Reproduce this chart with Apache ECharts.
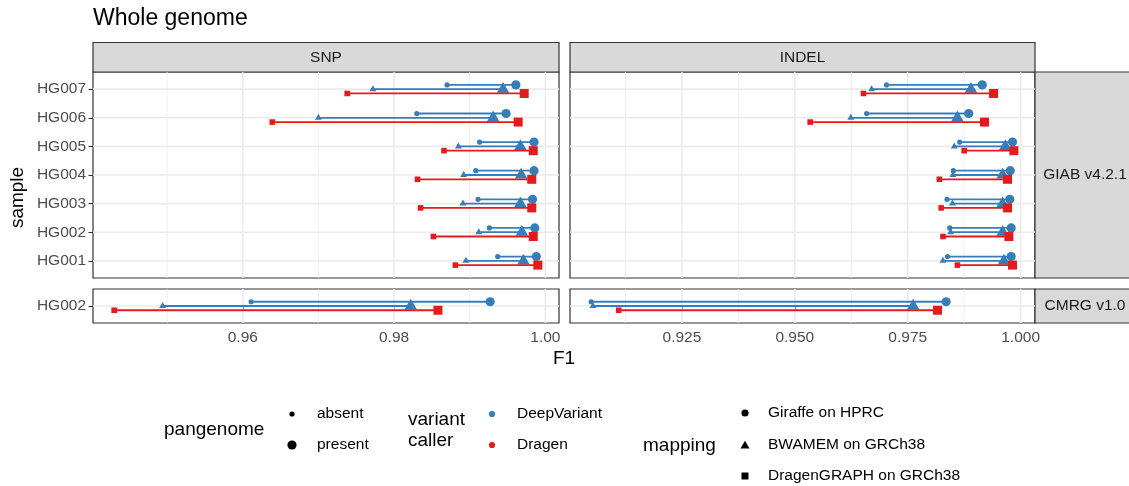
<!DOCTYPE html>
<html>
<head>
<meta charset="utf-8">
<title>Whole genome</title>
<script src="https://cdn.jsdelivr.net/npm/echarts@6.0.0/dist/echarts.min.js"></script>
<style>
  html, body { margin: 0; padding: 0; background: #ffffff; }
  #chart { width: 1129px; height: 486px; }
</style>
</head>
<body>
<div id="chart"></div>
<script>
// ---- data: F1 per sample, without ("absent") and with ("present") the pangenome ----
const samples = ['HG001', 'HG002', 'HG003', 'HG004', 'HG005', 'HG006', 'HG007'];
const cmrgSamples = ['HG002'];

// GIAB v4.2.1, SNP
const snpGiraffeAbsent   = [0.9937, 0.9926, 0.9911, 0.9908, 0.9913, 0.9830, 0.9870];
const snpGiraffePresent  = [0.9988, 0.9986, 0.9983, 0.9985, 0.9985, 0.9948, 0.9961];
const snpBwamemAbsent    = [0.9895, 0.9912, 0.9891, 0.9892, 0.9885, 0.9700, 0.9772];
const snpBwamemPresent   = [0.9971, 0.9969, 0.9967, 0.9968, 0.9967, 0.9931, 0.9944];
const snpDragenAbsent    = [0.9881, 0.9852, 0.9835, 0.9831, 0.9866, 0.9639, 0.9738];
const snpDragenPresent   = [0.9990, 0.9984, 0.9982, 0.9982, 0.9984, 0.9964, 0.9972];

// GIAB v4.2.1, INDEL
const indelGiraffeAbsent  = [0.9838, 0.9843, 0.9837, 0.9851, 0.9865, 0.9659, 0.9703];
const indelGiraffePresent = [0.9979, 0.9979, 0.9976, 0.9977, 0.9982, 0.9885, 0.9915];
const indelBwamemAbsent   = [0.9828, 0.9845, 0.9849, 0.9850, 0.9853, 0.9624, 0.9670];
const indelBwamemPresent  = [0.9963, 0.9960, 0.9960, 0.9960, 0.9966, 0.9860, 0.9890];
const indelDragenAbsent   = [0.9860, 0.9828, 0.9824, 0.9820, 0.9875, 0.9534, 0.9652];
const indelDragenPresent  = [0.9982, 0.9974, 0.9971, 0.9971, 0.9985, 0.9920, 0.9940];

// CMRG v1.0 (HG002 only)
const cmrgSnpGiraffeAbsent    = [0.9611];
const cmrgSnpGiraffePresent   = [0.9927];
const cmrgSnpBwamemAbsent     = [0.9494];
const cmrgSnpBwamemPresent    = [0.9822];
const cmrgSnpDragenAbsent     = [0.9430];
const cmrgSnpDragenPresent    = [0.9858];
const cmrgIndelGiraffeAbsent  = [0.9049];
const cmrgIndelGiraffePresent = [0.9835];
const cmrgIndelBwamemAbsent   = [0.9053];
const cmrgIndelBwamemPresent  = [0.9762];
const cmrgIndelDragenAbsent   = [0.9110];
const cmrgIndelDragenPresent  = [0.9816];

// axis breaks
const snpTicks = [0.96, 0.98, 1.00];
const snpMinorTicks = [0.95, 0.97, 0.99];
const indelTicks = [0.925, 0.950, 0.975, 1.000];
const indelMinorTicks = [0.9125, 0.9375, 0.9625, 0.9875];

// ---- styling ----
const FONT = '"Liberation Sans", Arial, Helvetica, sans-serif';
const BLUE = '#377EB8';
const RED = '#E41A1C';
const GRID_COLOR = '#EBEBEB';
const BORDER = '#333333';
const STRIP_FILL = '#D9D9D9';

const SMALL = { circle: 2.6, triangle: 4.0, square: 5.6 };
const BIG = { circle: 4.6, triangle: 7.2, square: 9.0 };

function marker(shape, x, y, s, color) {
  if (shape === 'circle') {
    return { type: 'circle', shape: { cx: x, cy: y, r: s }, style: { fill: color } };
  }
  if (shape === 'triangle') {
    return {
      type: 'polygon',
      shape: { points: [[x, y - s], [x + 0.866 * s, y + 0.5 * s], [x - 0.866 * s, y + 0.5 * s]] },
      style: { fill: color }
    };
  }
  return { type: 'rect', shape: { x: x - s / 2, y: y - s / 2, width: s, height: s }, style: { fill: color } };
}

// ggplot-like expansion (5% of the data range on both sides)
function expandedRange(arrays) {
  const all = [].concat(...arrays);
  const lo = Math.min(...all);
  const hi = Math.max(...all);
  const pad = (hi - lo) * 0.05;
  return [lo - pad, hi + pad];
}

const snpRange = expandedRange([
  snpGiraffeAbsent, snpGiraffePresent, snpBwamemAbsent, snpBwamemPresent, snpDragenAbsent, snpDragenPresent,
  cmrgSnpGiraffeAbsent, cmrgSnpGiraffePresent, cmrgSnpBwamemAbsent, cmrgSnpBwamemPresent,
  cmrgSnpDragenAbsent, cmrgSnpDragenPresent
]);
const indelRange = expandedRange([
  indelGiraffeAbsent, indelGiraffePresent, indelBwamemAbsent, indelBwamemPresent, indelDragenAbsent, indelDragenPresent,
  cmrgIndelGiraffeAbsent, cmrgIndelGiraffePresent, cmrgIndelBwamemAbsent, cmrgIndelBwamemPresent,
  cmrgIndelDragenAbsent, cmrgIndelDragenPresent
]);

// mapping -> shape, colour and vertical dodge (in row units)
const mappings = [
  { name: 'Giraffe on HPRC', shape: 'circle', color: BLUE, dodge: 0.15 },
  { name: 'BWAMEM on GRCh38', shape: 'triangle', color: BLUE, dodge: 0 },
  { name: 'DragenGRAPH on GRCh38', shape: 'square', color: RED, dodge: -0.15 }
];

// panels: grid index, row labels, x range, ticks, and [absent, present] per mapping
const panels = [
  { grid: 0, rows: samples, range: snpRange, ticks: snpTicks, minor: snpMinorTicks, digits: 2, left: true, bottom: false,
    pairs: [[snpGiraffeAbsent, snpGiraffePresent], [snpBwamemAbsent, snpBwamemPresent], [snpDragenAbsent, snpDragenPresent]] },
  { grid: 1, rows: samples, range: indelRange, ticks: indelTicks, minor: indelMinorTicks, digits: 3, left: false, bottom: false,
    pairs: [[indelGiraffeAbsent, indelGiraffePresent], [indelBwamemAbsent, indelBwamemPresent], [indelDragenAbsent, indelDragenPresent]] },
  { grid: 2, rows: cmrgSamples, range: snpRange, ticks: snpTicks, minor: snpMinorTicks, digits: 2, left: true, bottom: true,
    pairs: [[cmrgSnpGiraffeAbsent, cmrgSnpGiraffePresent], [cmrgSnpBwamemAbsent, cmrgSnpBwamemPresent], [cmrgSnpDragenAbsent, cmrgSnpDragenPresent]] },
  { grid: 3, rows: cmrgSamples, range: indelRange, ticks: indelTicks, minor: indelMinorTicks, digits: 3, left: false, bottom: true,
    pairs: [[cmrgIndelGiraffeAbsent, cmrgIndelGiraffePresent], [cmrgIndelBwamemAbsent, cmrgIndelBwamemPresent], [cmrgIndelDragenAbsent, cmrgIndelDragenPresent]] }
];

const gridBoxes = [
  { left: 93, top: 72, width: 466, height: 206 },
  { left: 570, top: 72, width: 465, height: 206 },
  { left: 93, top: 289, width: 466, height: 34 },
  { left: 570, top: 289, width: 465, height: 34 }
];

const grids = gridBoxes.map(b => Object.assign({
  show: true, backgroundColor: '#ffffff', borderColor: BORDER, borderWidth: 1.2,
  containLabel: false, outerBoundsMode: 'none'
}, b));

const xAxes = panels.map(p => ({
  type: 'value', gridIndex: p.grid, min: p.range[0], max: p.range[1],
  axisLine: { show: false },
  splitLine: { show: false },
  axisTick: { show: p.bottom, customValues: p.ticks, length: 4.5, lineStyle: { color: BORDER, width: 1.1 } },
  axisLabel: {
    show: p.bottom, customValues: p.ticks, margin: 7,
    formatter: v => v.toFixed(p.digits),
    color: '#4D4D4D', fontSize: 15.5, fontFamily: FONT
  }
}));

const yAxes = panels.map(p => {
  const idx = p.rows.map((_, i) => i);
  return {
    type: 'value', gridIndex: p.grid, min: -0.6, max: p.rows.length - 0.4,
    axisLine: { show: false },
    splitLine: { show: false },
    axisTick: { show: p.left, customValues: idx, length: 4.5, lineStyle: { color: BORDER, width: 1.1 } },
    axisLabel: {
      show: p.left, customValues: idx, margin: 7,
      formatter: v => p.rows[Math.round(v)],
      color: '#4D4D4D', fontSize: 15.5, fontFamily: FONT
    }
  };
});

const series = [];
panels.forEach(p => {
  // background grid lines
  const vLines = (values, width) => ({
    type: 'custom', xAxisIndex: p.grid, yAxisIndex: p.grid, z: 1, silent: true,
    data: values.map(v => [v, 0]),
    renderItem: (params, api) => {
      const x = api.coord([api.value(0), 0])[0];
      const cs = params.coordSys;
      return { type: 'line', shape: { x1: x, y1: cs.y, x2: x, y2: cs.y + cs.height },
               style: { stroke: GRID_COLOR, lineWidth: width } };
    }
  });
  series.push(vLines(p.minor, 0.8));
  series.push(vLines(p.ticks, 1.5));
  series.push({
    type: 'custom', xAxisIndex: p.grid, yAxisIndex: p.grid, z: 1, silent: true,
    data: p.rows.map((_, i) => [p.range[0], i]),
    renderItem: (params, api) => {
      const y = api.coord([api.value(0), api.value(1)])[1];
      const cs = params.coordSys;
      return { type: 'line', shape: { x1: cs.x, y1: y, x2: cs.x + cs.width, y2: y },
               style: { stroke: GRID_COLOR, lineWidth: 1.6 } };
    }
  });

  // dumbbells: absent (small) -> present (large)
  mappings.forEach((m, mi) => {
    const [absent, present] = p.pairs[mi];
    series.push({
      type: 'custom', name: m.name, xAxisIndex: p.grid, yAxisIndex: p.grid, z: 2 + mi,
      encode: { x: [0, 1], y: 2 },
      data: p.rows.map((_, i) => [absent[i], present[i], i]),
      renderItem: (params, api) => {
        const row = api.value(2);
        const a = api.coord([api.value(0), row]);
        const b = api.coord([api.value(1), row]);
        const y = a[1] - m.dodge * api.size([0, 1])[1];
        return {
          type: 'group',
          children: [
            { type: 'line', shape: { x1: a[0], y1: y, x2: b[0], y2: y }, style: { stroke: m.color, lineWidth: 1.8 } },
            marker(m.shape, a[0], y, SMALL[m.shape], m.color),
            marker(m.shape, b[0], y, BIG[m.shape], m.color)
          ]
        };
      }
    });
  });
});

// facet strips, titles and legends
function text(str, x, y, size, opts) {
  return Object.assign({
    type: 'text', x: x, y: y,
    style: { text: str, fill: '#000000', font: size + 'px ' + FONT, align: 'left', verticalAlign: 'middle' }
  }, opts || {});
}
function strip(x, y, w, h, label) {
  return [
    { type: 'rect', shape: { x: x, y: y, width: w, height: h },
      style: { fill: STRIP_FILL, stroke: BORDER, lineWidth: 1.2 } },
    { type: 'text', x: x + w / 2, y: y + h / 2,
      style: { text: label, fill: '#1A1A1A', font: '15.5px ' + FONT, align: 'center', verticalAlign: 'middle' } }
  ];
}

const graphics = [].concat(
  strip(93, 42.5, 466, 29.5, 'SNP'),
  strip(570, 42.5, 465, 29.5, 'INDEL'),
  strip(1035, 72, 100, 206, 'GIAB v4.2.1'),
  strip(1035, 289, 100, 34, 'CMRG v1.0'),
  [
    text('Whole genome', 93, 18.5, 23),
    { type: 'text', x: 18, y: 197.5, rotation: Math.PI / 2,
      style: { text: 'sample', fill: '#000000', font: '19px ' + FONT, align: 'center', verticalAlign: 'middle' } },
    { type: 'text', x: 564, y: 359,
      style: { text: 'F1', fill: '#000000', font: '19px ' + FONT, align: 'center', verticalAlign: 'middle' } },

    // pangenome
    text('pangenome', 164, 430, 19),
    { type: 'circle', shape: { cx: 292, cy: 414, r: SMALL.circle }, style: { fill: '#000000' } },
    { type: 'circle', shape: { cx: 292, cy: 445, r: BIG.circle }, style: { fill: '#000000' } },
    text('absent', 317, 414, 15.5),
    text('present', 317, 445, 15.5),

    // variant caller
    text('variant', 408, 420, 19),
    text('caller', 408, 441, 19),
    { type: 'circle', shape: { cx: 492, cy: 414, r: 3.1 }, style: { fill: BLUE } },
    { type: 'circle', shape: { cx: 492, cy: 445, r: 3.1 }, style: { fill: RED } },
    text('DeepVariant', 517, 414, 15.5),
    text('Dragen', 517, 445, 15.5),

    // mapping
    text('mapping', 643, 446, 19),
    marker('circle', 745, 413, 3.6, '#000000'),
    marker('triangle', 745, 446, 5.2, '#000000'),
    marker('square', 745, 476, 7, '#000000'),
    text(mappings[0].name, 768, 413, 15.5),
    text(mappings[1].name, 768, 445, 15.5),
    text(mappings[2].name, 768, 476, 15.5)
  ]
);

const chart = echarts.init(document.getElementById('chart'), null, { renderer: 'canvas' });
chart.setOption({
  animation: false,
  backgroundColor: '#ffffff',
  textStyle: { fontFamily: FONT },
  grid: grids,
  xAxis: xAxes,
  yAxis: yAxes,
  series: series,
  graphic: { elements: graphics }
});
</script>
</body>
</html>
